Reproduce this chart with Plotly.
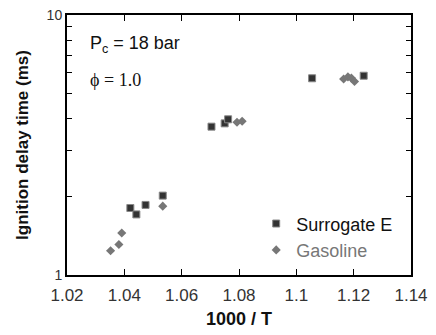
import plotly.graph_objects as go

surr_x = [1.0421, 1.0442, 1.0474, 1.0534, 1.0704, 1.0750, 1.0762, 1.1055, 1.1235]
surr_y = [1.81, 1.71, 1.86, 2.02, 3.72, 3.83, 3.97, 5.71, 5.84]
gas_x = [1.0352, 1.0381, 1.0391, 1.0534, 1.0793, 1.0811, 1.1165, 1.1180, 1.1192, 1.1203]
gas_y = [1.24, 1.31, 1.45, 1.84, 3.87, 3.90, 5.67, 5.78, 5.72, 5.55]

x_ticks = [1.02, 1.04, 1.06, 1.08, 1.1, 1.12, 1.14]
x_tick_text = ["1.02", "1.04", "1.06", "1.08", "1.1", "1.12", "1.14"]
y_ticks = [1, 2, 3, 4, 5, 6, 7, 8, 9, 10]
y_tick_text = ["1", "", "", "", "", "", "", "", "", "10"]

fig = go.Figure()
fig.add_trace(go.Scatter(
    x=surr_x, y=surr_y, mode="markers", name="Surrogate E",
    marker=dict(symbol="square", size=7, color="#333333",
                line=dict(color="#888888", width=1)),
))
fig.add_trace(go.Scatter(
    x=gas_x, y=gas_y, mode="markers",
    name="<span style='color:#777777'>Gasoline</span>",
    marker=dict(symbol="diamond", size=7, color="#777777",
                line=dict(width=0)),
))

fig.add_annotation(x=0.061, y=0.885, xref="paper", yref="paper",
                   text="P<sub>c</sub> = 18 bar", showarrow=False,
                   xanchor="left", yanchor="middle",
                   font=dict(family="Arial, Liberation Sans", size=18, color="#111"))
fig.add_annotation(x=0.061, y=0.75, xref="paper", yref="paper",
                   text="ϕ = 1.0", showarrow=False,
                   xanchor="left", yanchor="middle",
                   font=dict(family="Liberation Serif, DejaVu Serif, serif", size=18, color="#111"))

fig.update_layout(
    width=436, height=335,
    margin=dict(l=67, r=25, t=15, b=60),
    paper_bgcolor="white", plot_bgcolor="white",
    font=dict(family="Arial, Liberation Sans, sans-serif", size=17, color="#333"),
    showlegend=True,
    legend=dict(x=0.55, y=0.268, xanchor="left", yanchor="top",
                bgcolor="rgba(0,0,0,0)", font=dict(size=18, color="#111"),
                itemsizing="trace", tracegroupgap=0, itemwidth=30),
)
fig.update_xaxes(
    range=[1.02, 1.14], tickvals=x_ticks, ticktext=x_tick_text,
    tickfont=dict(size=17, color="#333"), automargin=False,
    ticks="inside", ticklen=6, tickwidth=1, tickcolor="#000",
    ticklabelstandoff=4,
    showline=True, linecolor="#000", linewidth=2, mirror="ticks",
    showgrid=False, zeroline=False,
    title=dict(text="<b>1000 / T</b>", font=dict(size=18, color="#111"), standoff=8),
)
fig.update_yaxes(
    type="log", range=[0, 1], tickvals=y_ticks, ticktext=y_tick_text,
    tickfont=dict(size=14, color="#333"), automargin=False,
    ticks="inside", ticklen=5, tickwidth=1, tickcolor="#000",
    showline=True, linecolor="#000", linewidth=2, mirror="ticks",
    showgrid=False, zeroline=False,
    title=dict(text="<b>Ignition delay time (ms)</b>", font=dict(size=17, color="#111"), standoff=14),
)

fig.write_html("out.html")
